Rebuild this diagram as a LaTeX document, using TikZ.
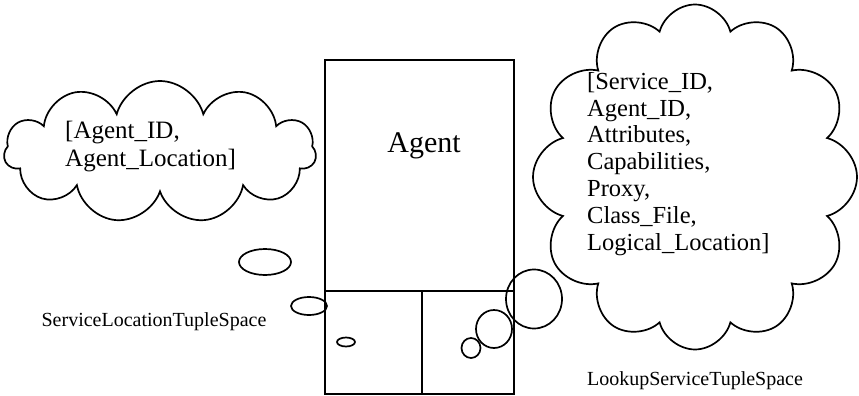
\documentclass[tikz,border=0pt]{standalone}
\usepackage{fontspec}
\setmainfont{Liberation Serif}
\usetikzlibrary{shapes.symbols,shapes.geometric}

\tikzset{
  cloudbox/.style={draw, cloud, cloud ignores aspect, line width=1.7pt, inner sep=0pt},
  bubble/.style={draw, ellipse, line width=1.7pt, inner sep=0pt},
  cell/.style={draw, rectangle, line width=1.7pt, inner sep=0pt, anchor=north west},
  tuple/.style={align=left, anchor=north west, inner sep=0pt, font=\fontsize{25}{28}\selectfont},
  spacename/.style={anchor=base, inner sep=0pt, font=\fontsize{20}{24}\selectfont}
}

\begin{document}
\begin{tikzpicture}[x=1pt,y=-1pt]
\useasboundingbox (0,0) rectangle (859,396);
% agent and its two tuple spaces
\node[cell, minimum width=189, minimum height=231] (agentbox) at (324,59) {};
\node[cell, minimum width=97, minimum height=103] (sltsbox) at (324,290) {};
\node[cell, minimum width=92, minimum height=103] (lstsbox) at (421,290) {};
\node[anchor=base, inner sep=0pt, font=\fontsize{30}{36}\selectfont] (agentlabel) at (424,152) {Agent};
% clouds
\node[cloudbox, cloud puffs=11, minimum width=312, minimum height=142] (slcloud) at (160,152) {};
\node[cloudbox, cloud puffs=12, minimum width=324, minimum height=345] (lscloud) at (695,177) {};
\node[tuple] (sltuple) at (65,121) {[Agent\_ID,\\Agent\_Location]};
\node[tuple, font=\fontsize{24.5}{26.8}\selectfont] (lstuple) at (587,72)
  {[Service\_ID,\\Agent\_ID,\\Attributes,\\Capabilities,\\Proxy,\\Class\_File,\\Logical\_Location]};
% thought bubbles
\node[bubble, minimum width=52, minimum height=26] (slbubbleA) at (265,262) {};
\node[bubble, minimum width=36, minimum height=18] (slbubbleB) at (309,306) {};
\node[bubble, minimum width=18, minimum height=9] (slbubbleC) at (346,342) {};
\node[bubble, minimum width=56, minimum height=59] (lsbubbleA) at (534,299) {};
\node[bubble, minimum width=36, minimum height=38] (lsbubbleB) at (494,329) {};
\node[bubble, minimum width=19, minimum height=20] (lsbubbleC) at (471,348) {};
% names
\node[spacename] (sltsname) at (154,326) {ServiceLocationTupleSpace};
\node[spacename] (lstsname) at (695,385) {LookupServiceTupleSpace};
\end{tikzpicture}
\end{document}
